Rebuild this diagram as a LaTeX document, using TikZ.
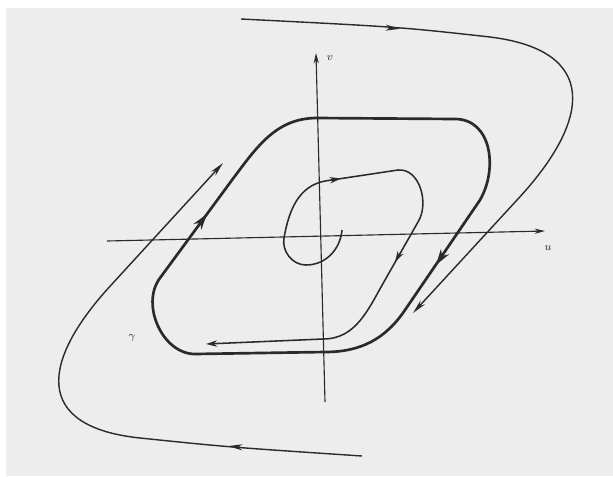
\documentclass[tikz,border=0pt]{standalone}
\usepackage{amsmath,amssymb}
\usepackage{xcolor}
\usepackage{tikz}
\usetikzlibrary{arrows.meta}
\definecolor{inkgray}{HTML}{2A2A2A}
\definecolor{paper}{HTML}{EDEDED}
\tikzset{axis/.style={-{Stealth[length=2.6mm,width=1.3mm]},line width=0.8pt,inkgray},
orbit/.style={-{Stealth[length=3.6mm,width=1.5mm]},line width=1pt,inkgray},
spiral/.style={-{Stealth[length=2.8mm,width=1.6mm]},line width=1.1pt,inkgray},
limitcyc/.style={line width=1.9pt,inkgray,line join=round},
cyctip/.style={-{Stealth[length=4mm,width=2.4mm]},line width=1.9pt,inkgray},
lbl/.style={inkgray,font=\footnotesize}}

\begin{document}
\begin{tikzpicture}[x=0.025cm,y=-0.025cm]
\useasboundingbox (0,0) rectangle (613,476);
\fill[white] (0,0) rectangle (613,476);
\fill[paper] (6,8) rectangle (613,476);
% axes
\coordinate (uleft) at (107,241);
\coordinate (uright) at (545,231);
\coordinate (vbot) at (325,402);
\coordinate (vtop) at (316,53);
\draw[axis] (uleft) -- (uright);
\draw[axis] (vbot) -- (vtop);
\node[lbl] (ulabel) at (548,248) {$u$};
\node[lbl] (vlabel) at (330,58) {$v$};
% outer orbits
\draw[orbit] (241,19) .. controls (400,27) .. (490,37)
  to[out=-7,in=47,looseness=1.7] (517,200) -- (413,313);
\draw[orbit] (388,27.8) -- (400,28.8);
\draw[orbit] (362,456) .. controls (227,447) .. (140,438)
  to[out=174,in=-133,looseness=1.75] (113,283) -- (223,163);
\draw[orbit] (240,447.1) -- (228,446.1);
% limit cycle
\draw[limitcyc] (317,118) -- (455,119) to[out=0,in=60,looseness=1.1] (480,200) -- (405,310)
  to[out=-124,in=0] (325,352) -- (195,354) to[out=180,in=-127] (160,278)
  -- (232,180) to[out=53,in=180] (317,118) -- cycle;
\draw[cyctip] (441.6,256.7) -- (436,265);
\draw[cyctip] (201,222) -- (207,214);
\node[lbl] (gammalabel) at (132,338) {$\gamma$};
% inner spiral
\draw[spiral] (342,230) to[out=-95,in=0] (306,265) to[out=180,in=-100] (284,238)
  to[out=80,in=-169] (325,181) -- (398,170) to[out=5,in=58] (418,222) -- (385,280)
  to[out=-120,in=0] (323,339) -- (206,344);
\draw[spiral] (331,180.1) -- (341,178.5);
\draw[spiral] (400,253.3) -- (395,262);
\end{tikzpicture}
\end{document}
